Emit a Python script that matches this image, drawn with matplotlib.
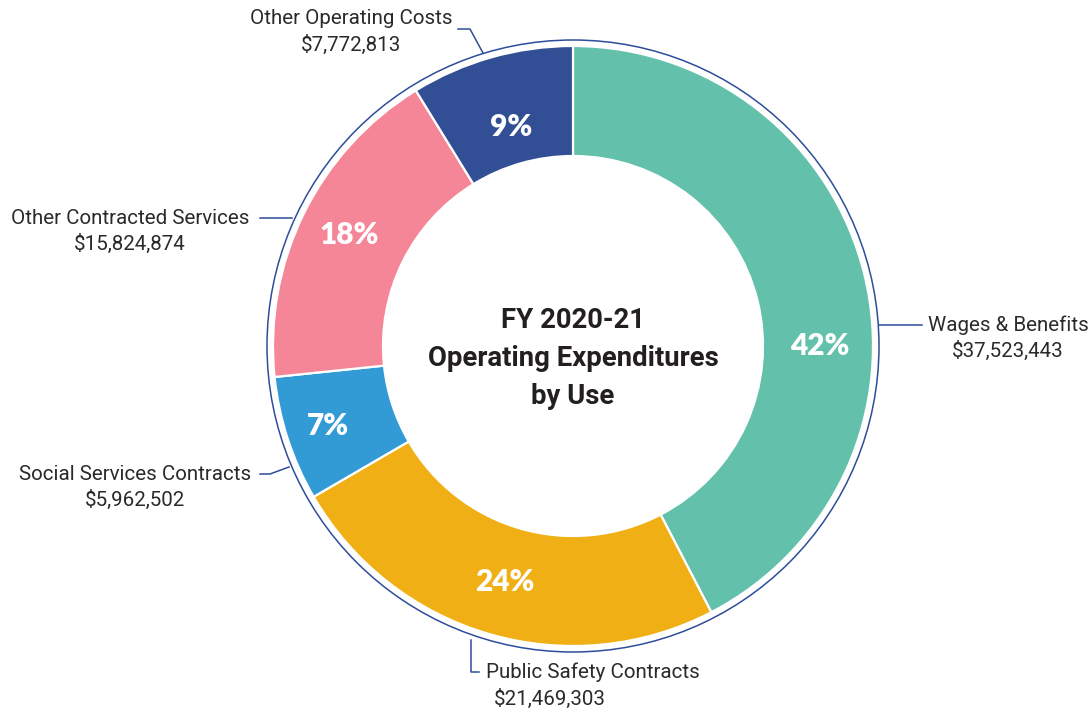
import matplotlib
matplotlib.use("Agg")
import matplotlib.pyplot as plt
from matplotlib.patches import Circle
import numpy as np

# ---- data ----
categories = ["Wages & Benefits", "Public Safety Contracts", "Social Services Contracts",
              "Other Contracted Services", "Other Operating Costs"]
amounts = [37523443, 21469303, 5962502, 15824874, 7772813]
pct_labels = ["42%", "24%", "7%", "18%", "9%"]
colors = ["#62C0AB", "#F0B015", "#329BD6", "#F48698", "#324F96"]
title_lines = ["FY 2020\u201121", "Operating Expenditures", "by Use"]

W, H = 1092, 710
fig = plt.figure(figsize=(W / 100, H / 100), dpi=100)
ax = fig.add_axes([0, 0, 1, 1])

def P(x, y):
    return (x, H - y)

cx, cy = P(573, 346)
R = 300
r_in = 190
ring_color = "#2E4D9A"

wedges, _ = ax.pie(amounts, colors=colors, startangle=90, counterclock=False,
                   radius=R, center=(cx, cy),
                   wedgeprops=dict(width=R - r_in, edgecolor="white", linewidth=1.6))
ax.set_xlim(0, W)
ax.set_ylim(0, H)
ax.set_aspect("equal")
ax.axis("off")

# percent labels
total = sum(amounts)
cum = 0
lab_r = [247, 246, 258, 250, 228]
for i, (amt, lab) in enumerate(zip(amounts, pct_labels)):
    mid = 90 - (cum + amt / 2) / total * 360
    cum += amt
    if i == 0:
        mid = 0
    ang = np.deg2rad(mid)
    ax.text(cx + lab_r[i] * np.cos(ang), cy + lab_r[i] * np.sin(ang), lab,
            ha="center", va="center", color="white", fontsize=21.5,
            fontweight="heavy", family="Lato")

# outer ring
ax.add_patch(Circle((cx, cy), 306, fill=False, edgecolor=ring_color, linewidth=1.1))

# center title
for k, line in enumerate(title_lines):
    ax.text(*P(573, 320 + 38.5 * k), line, ha="center", va="center",
            fontsize=19.8, fontweight="bold", family=["Roboto", "DejaVu Sans"],
            color="#231F20")

# leader lines and labels
lc = dict(color=ring_color, linewidth=1.1)
txt = dict(fontsize=14.8, family="Roboto", color="#2A2A2A", va="center")

def line(pts):
    xs = [P(*p)[0] for p in pts]
    ys = [P(*p)[1] for p in pts]
    ax.plot(xs, ys, **lc)

# Wages & Benefits
line([(879, 325), (922, 325)])
ax.text(*P(1008, 325), categories[0], ha="center", **txt)
ax.text(*P(1008, 351), "${:,}".format(amounts[0]), ha="center", **txt)

# Public Safety
line([(471, 640), (471, 672), (479, 672)])
ax.text(*P(486, 672), categories[1], ha="left", **txt)
ax.text(*P(494, 699), "${:,}".format(amounts[1]), ha="left", **txt)

# Social Services
line([(260, 474), (270, 474), (289, 467)])
ax.text(*P(135, 474), categories[2], ha="center", **txt)
ax.text(*P(135, 500), "${:,}".format(amounts[2]), ha="center", **txt)

# Other Contracted
line([(260, 218), (292, 218)])
ax.text(*P(130, 218), categories[3], ha="center", **txt)
ax.text(*P(130, 244), "${:,}".format(amounts[3]), ha="center", **txt)

# Other Operating
line([(458, 29), (470, 29), (483, 53)])
ax.text(*P(351, 19), categories[4], ha="center", **txt)
ax.text(*P(351, 45), "${:,}".format(amounts[4]), ha="center", **txt)

fig.savefig("out.png", dpi=100, facecolor="white")
